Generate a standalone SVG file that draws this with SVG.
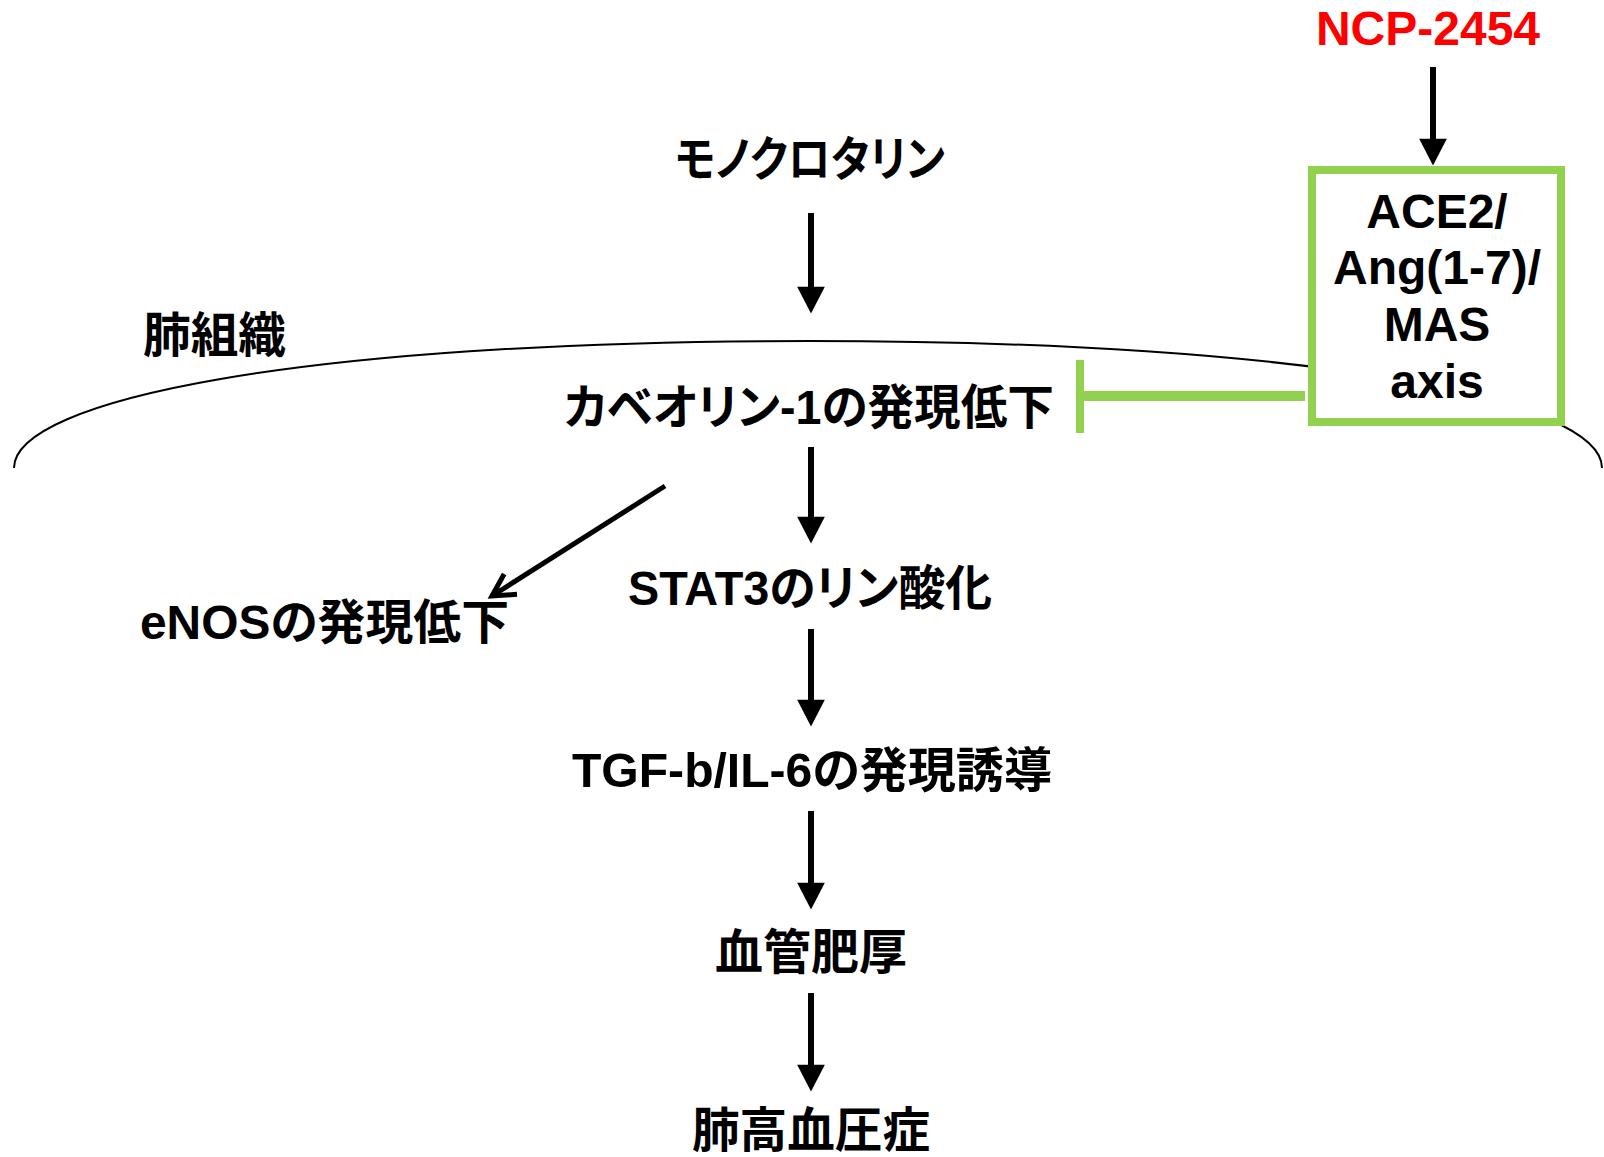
<svg xmlns="http://www.w3.org/2000/svg" width="1604" height="1157" viewBox="0 0 1604 1157">
<style>
.t{font-family:"Liberation Sans","Noto Sans CJK JP",sans-serif;font-weight:bold;font-size:48px;fill:#000;font-feature-settings:"palt";}
.c{text-anchor:middle;}
.red{fill:#FF0000;}
.ar{stroke:#000;stroke-width:6;fill:none;}
.grn{stroke:#92D050;fill:none;}
</style>
<defs>
<marker id="ah" markerUnits="userSpaceOnUse" markerWidth="30" markerHeight="30" viewBox="0 -13 24 26" refX="1" refY="0" orient="auto">
<path d="M0,-12 L23,0 L0,12 z" fill="#000"/>
</marker>
<marker id="open" markerUnits="userSpaceOnUse" markerWidth="40" markerHeight="40" viewBox="-30 -20 36 40" refX="0" refY="0" orient="auto">
<path d="M-22,-12 L0,0 L-22,12" fill="none" stroke="#000" stroke-width="5" stroke-linejoin="miter"/>
</marker>
</defs>
<rect width="1604" height="1157" fill="#fff"/>

<g id="membrane">
<path d="M14,468 C14,400 300,341 808,341 C1316,341 1602,400 1602,468" fill="none" stroke="#000" stroke-width="2"/>
</g>

<g id="connectors">
<line class="ar" x1="811" y1="213" x2="811" y2="288" marker-end="url(#ah)"/>
<line class="ar" x1="811" y1="447" x2="811" y2="518" marker-end="url(#ah)"/>
<line class="ar" x1="811" y1="629" x2="811" y2="701" marker-end="url(#ah)"/>
<line class="ar" x1="811" y1="811" x2="811" y2="884" marker-end="url(#ah)"/>
<line class="ar" x1="811" y1="993" x2="811" y2="1066" marker-end="url(#ah)"/>
<line class="ar" x1="1433" y1="67" x2="1433" y2="140" marker-end="url(#ah)"/>
<line x1="665" y1="486" x2="492" y2="596" stroke="#000" stroke-width="5" marker-end="url(#open)"/>
<line class="grn" x1="1080" y1="396" x2="1305" y2="396" stroke-width="10"/>
<line class="grn" x1="1080" y1="360" x2="1080" y2="433" stroke-width="8"/>
</g>

<g id="node-ncp"><text class="t c red" x="1428" y="45">NCP-2454</text></g>

<g id="node-axis">
<rect x="1312" y="170" width="249" height="252" fill="#fff" stroke="#92D050" stroke-width="8"/>
<text class="t c" x="1437" y="228">ACE2/</text>
<text class="t c" x="1437" y="284">Ang(1-7)/</text>
<text class="t c" x="1437" y="341">MAS</text>
<text class="t c" x="1437" y="398">axis</text>
</g>

<g id="node-mct"><text class="t c" x="810" y="176" textLength="270" lengthAdjust="spacingAndGlyphs">モノクロタリン</text></g>
<g id="label-lung"><text class="t" x="143" y="352" textLength="143" lengthAdjust="spacingAndGlyphs">肺組織</text></g>
<g id="node-cav"><text class="t c" x="809" y="424" textLength="490" lengthAdjust="spacingAndGlyphs">カベオリン-1の発現低下</text></g>
<g id="node-enos"><text class="t" x="140" y="639" textLength="369" lengthAdjust="spacingAndGlyphs">eNOSの発現低下</text></g>
<g id="node-stat3"><text class="t c" x="810" y="605" textLength="364" lengthAdjust="spacingAndGlyphs">STAT3のリン酸化</text></g>
<g id="node-tgf"><text class="t c" x="812" y="787" textLength="480" lengthAdjust="spacingAndGlyphs">TGF-b/IL-6の発現誘導</text></g>
<g id="node-hyp"><text class="t c" x="811" y="969" textLength="192" lengthAdjust="spacingAndGlyphs">血管肥厚</text></g>
<g id="node-ph"><text class="t c" x="811" y="1147" textLength="238" lengthAdjust="spacingAndGlyphs">肺高血圧症</text></g>
</svg>
